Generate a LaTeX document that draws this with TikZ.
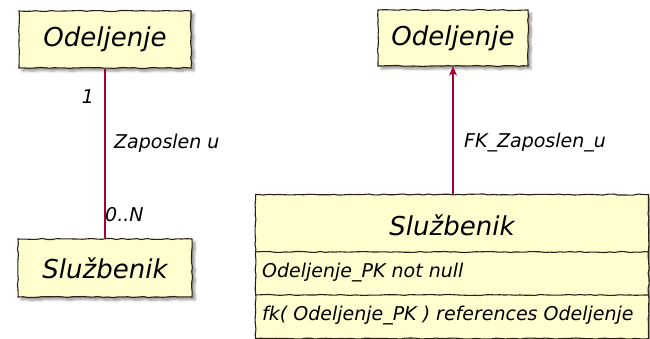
\documentclass[tikz,border=0pt]{standalone}
\usepackage{fontspec}
\setmainfont{DejaVu Sans}
\usetikzlibrary{arrows.meta,decorations.pathmorphing,shadows.blur}

\definecolor{boxfill}{HTML}{FEFECE}
\definecolor{boxline}{HTML}{2B2118}
\definecolor{relline}{HTML}{A80036}

\begin{document}
\begin{tikzpicture}[x=1pt,y=-1pt,
  sketchy/.style={decorate,decoration={random steps,segment length=5pt,amplitude=0.55pt}},
  entity/.style={draw=boxline,line width=1.1pt,fill=boxfill,sketchy,
    blur shadow={shadow xshift=3pt,shadow yshift=-3pt,shadow blur steps=6,shadow opacity=40},
    inner sep=0pt},
  titletext/.style={font=\itshape\fontsize{26}{30}\selectfont,inner sep=0pt},
  rowtext/.style={font=\itshape\fontsize{19}{23}\selectfont,inner sep=0pt,anchor=west},
  lbl/.style={font=\itshape\fontsize{19}{23}\selectfont,inner sep=0pt},
  rel/.style={draw=relline,line width=1.25pt}]
\pgfmathsetseed{7}
\useasboundingbox (0,0) rectangle (650,339);

% conceptual model (left)
\node[entity,minimum width=172pt,minimum height=57pt] (od1) at (105,39.5) {};
\node[titletext] (od1t) at (od1) {Odeljenje};
\node[entity,minimum width=174pt,minimum height=58pt] (sl1) at (105,268) {};
\node[titletext] (sl1t) at (sl1) {Službenik};
\draw[rel] (od1.south) -- (sl1.north);
\node[lbl,anchor=center] (c1) at (88,97) {1};
\node[lbl,anchor=west] (rn) at (114,143) {Zaposlen u};
\node[lbl,anchor=west] (cn) at (105,215) {0..N};

% relational model (right)
\node[entity,minimum width=150pt,minimum height=56pt] (od2) at (453,38) {};
\node[titletext] (od2t) at (od2) {Odeljenje};
\node[entity,anchor=north west,minimum width=393pt,minimum height=144pt] (sl2) at (255,194) {};
\node[titletext] (sl2t) at (452,225) {Službenik};
\draw[boxline,line width=1.1pt,sketchy] (sl2.west |- 0,252) -- (sl2.east |- 0,252);
\draw[boxline,line width=1.1pt,sketchy] (sl2.west |- 0,295) -- (sl2.east |- 0,295);
\node[rowtext] (r1) at (262,273) {Odeljenje\_PK not null};
\node[rowtext] (r2) at (262,316) {fk( Odeljenje\_PK ) references Odeljenje};
\draw[rel,-{Stealth[length=9pt,width=8pt,inset=2.5pt]}] (od2.south |- sl2.north) -- (od2.south);
\node[lbl,anchor=west] (fk) at (464,143) {FK\_Zaposlen\_u};
\end{tikzpicture}
\end{document}
